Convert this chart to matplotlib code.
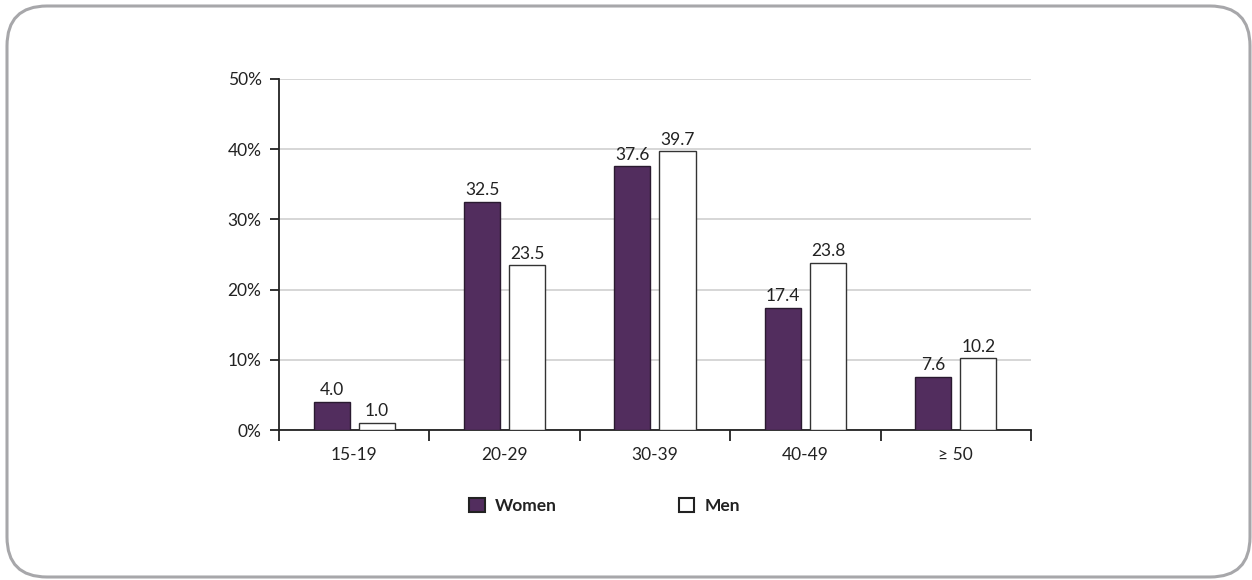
import numpy as np
import matplotlib
matplotlib.use("Agg")
import matplotlib.pyplot as plt
from matplotlib.patches import FancyBboxPatch, Rectangle

plt.rcParams['font.family'] = ['Lato', 'DejaVu Sans']

categories = ["15-19", "20-29", "30-39", "40-49", "\u2265 50"]
women = [4.0, 32.5, 37.6, 17.4, 7.6]
men = [1.0, 23.5, 39.7, 23.8, 10.2]
yticks = [0, 10, 20, 30, 40, 50]

purple = "#522d5e"
txt = "#222222"

fig = plt.figure(figsize=(12.52, 5.8), dpi=100)

# rounded frame, drawn in pixel units on a background axes
bg = fig.add_axes([0, 0, 1, 1], zorder=-1)
bg.set_xlim(0, 1252)
bg.set_ylim(580, 0)
bg.axis("off")
bg.add_patch(FancyBboxPatch((7, 6), 1243, 571,
                            boxstyle="round,pad=0,rounding_size=40",
                            fill=False, edgecolor="#a7a7aa", linewidth=2.2))

ax = fig.add_axes([0.2228, 0.2586, 0.6007, 0.6052])
x = np.arange(len(categories))
w = 0.24
off = 0.15
ax.bar(x - off, women, w, color=purple, edgecolor="#2a1a30", linewidth=1, zorder=3)
ax.bar(x + off, men, w, color="white", edgecolor="#333333", linewidth=1, zorder=3)

for xi, v in zip(x, women):
    ax.text(xi - off, v + 0.5, f"{v:.1f}", ha="center", va="bottom", fontsize=12.5, color=txt)
for xi, v in zip(x, men):
    ax.text(xi + off, v + 0.5, f"{v:.1f}", ha="center", va="bottom", fontsize=12.5, color=txt)

ax.set_xlim(-0.5, len(categories) - 0.5)
ax.set_ylim(0, 50)
ax.set_yticks(yticks)
ax.set_yticklabels([f"{t}%" for t in yticks], fontsize=12.5, color=txt)
ax.yaxis.grid(True, color="#cfcfcf", linewidth=1.2, zorder=0)
ax.set_axisbelow(True)

# boundaries as ticks, names at the centres
ax.set_xticks(np.arange(-0.5, len(categories), 1.0))
ax.set_xticklabels([])
ax.set_xticks(x, minor=True)
ax.set_xticklabels(categories, minor=True, fontsize=12.5, color=txt)
ax.tick_params(axis="x", which="major", length=8, width=1.3, direction="out", color="#222222")
ax.tick_params(axis="x", which="minor", length=0, pad=12)
ax.tick_params(axis="y", length=6.5, width=1.3, color="#222222", pad=6)

for s in ["top", "right"]:
    ax.spines[s].set_visible(False)
for s in ["left", "bottom"]:
    ax.spines[s].set_linewidth(1.3)
    ax.spines[s].set_color("#222222")

handles = [Rectangle((0, 0), 1, 1, facecolor=purple, edgecolor="#222222", linewidth=1.5),
           Rectangle((0, 0), 1, 1, facecolor="white", edgecolor="#222222", linewidth=1.5)]
leg = fig.legend(handles, ["Women", "Men"], loc="center", bbox_to_anchor=(0.483, 0.1276),
                 ncol=2, frameon=False, handlelength=0.9, handleheight=0.9,
                 columnspacing=7.0, handletextpad=0.6,
                 prop={"weight": "bold", "size": 12.5})
for t in leg.get_texts():
    t.set_color(txt)

fig.savefig("out.png", dpi=100)
